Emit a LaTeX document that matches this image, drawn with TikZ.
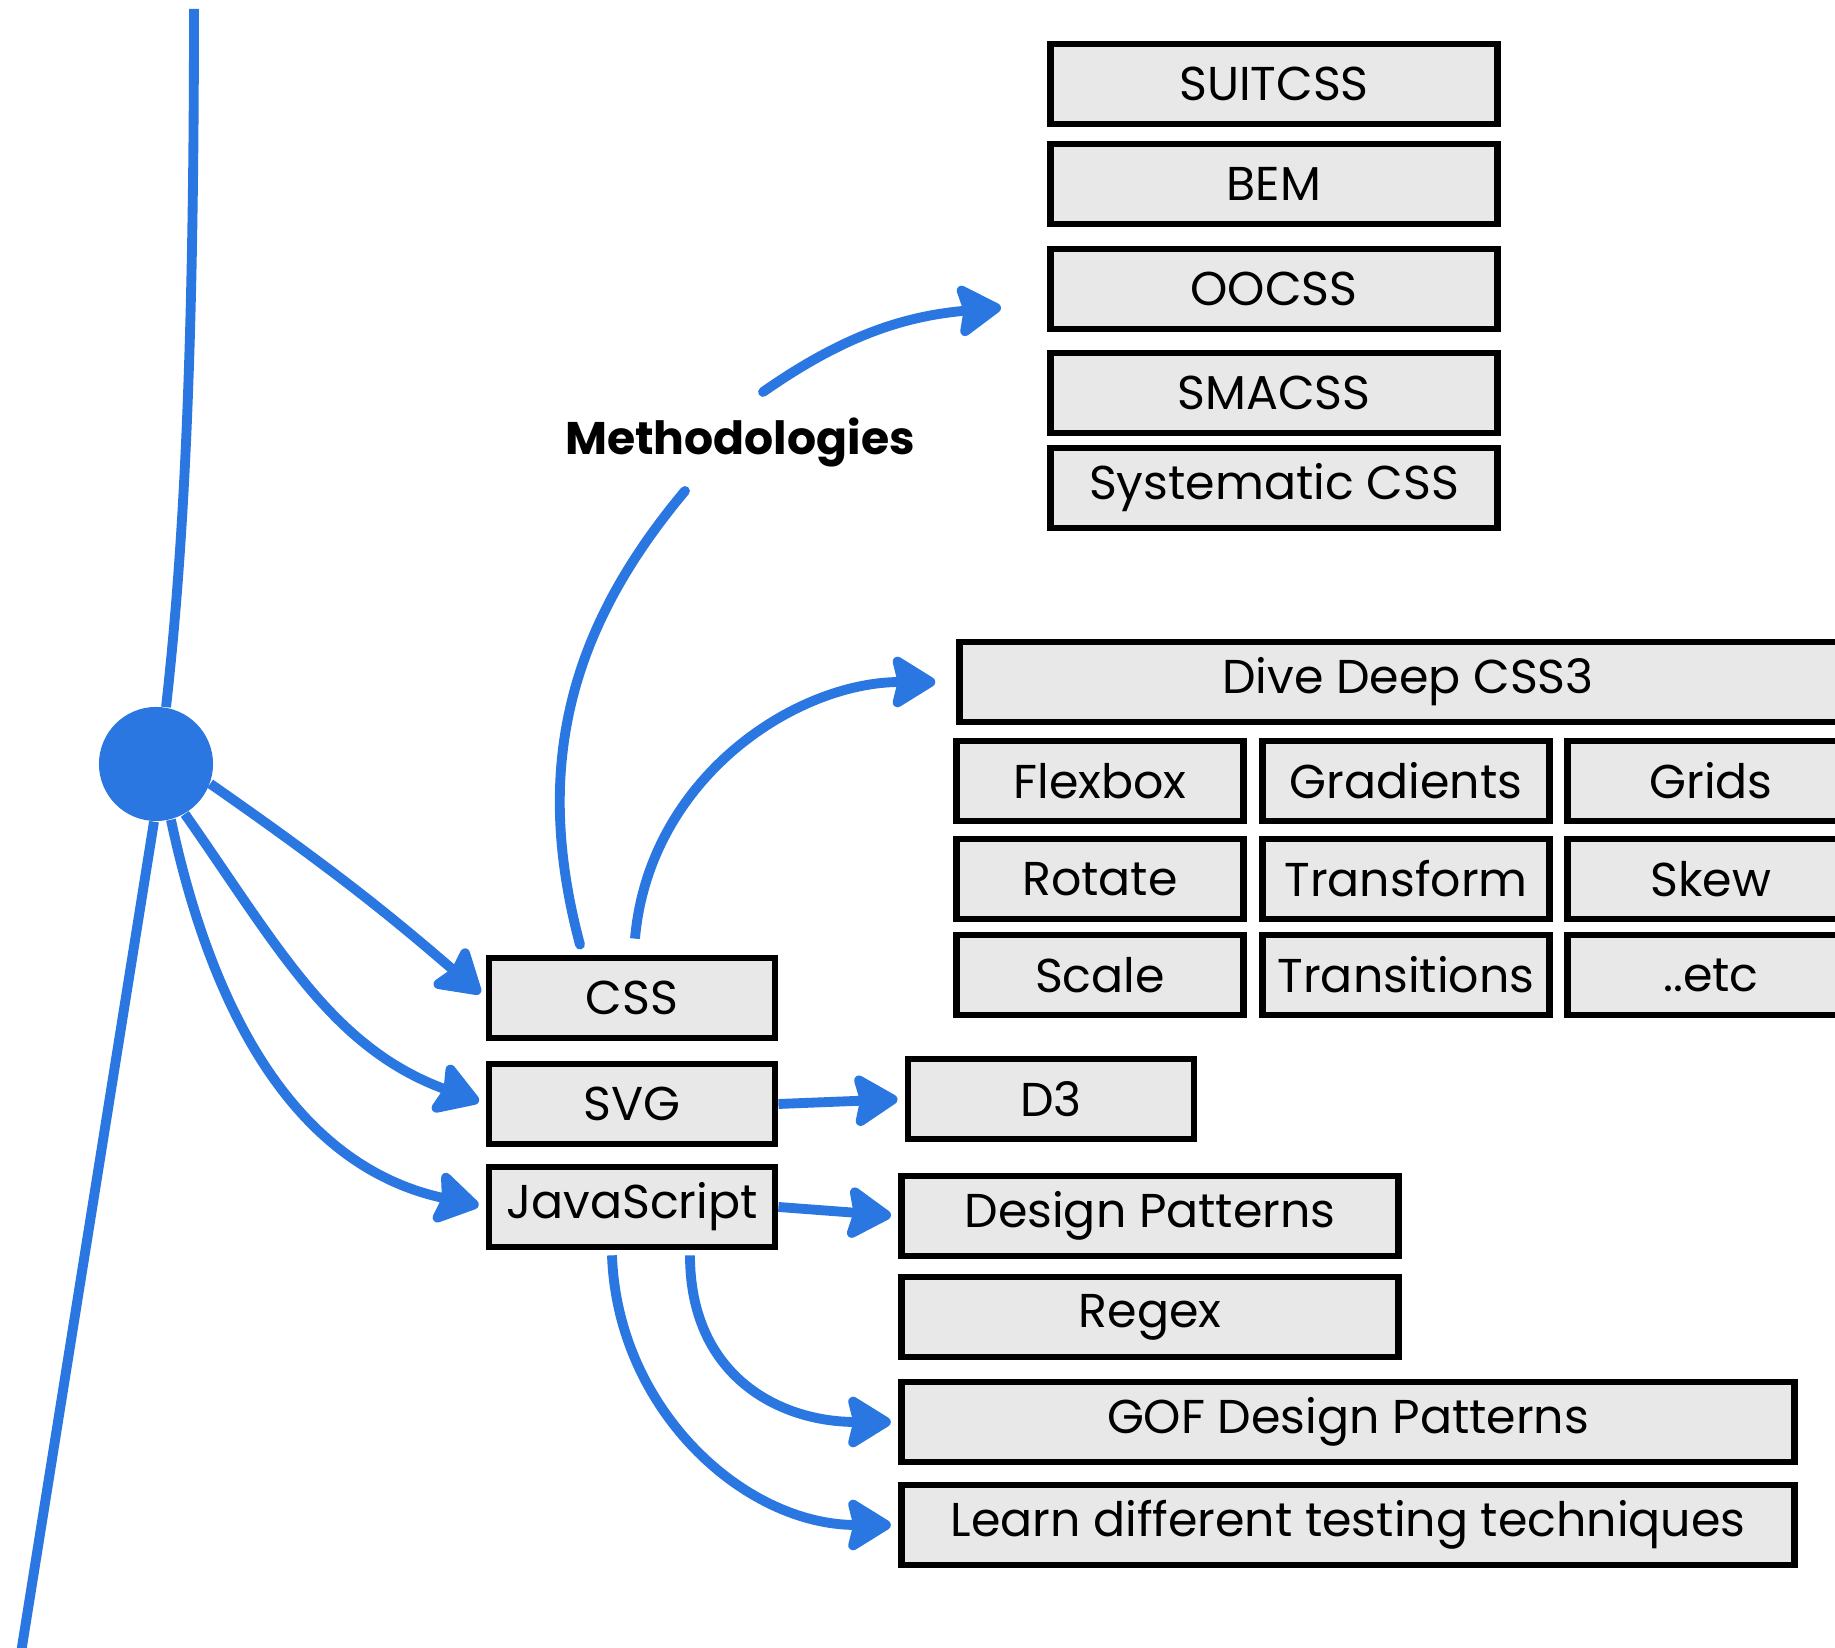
\documentclass[tikz,border=0pt]{standalone}
\usepackage{fontspec}
\setmainfont{Poppins}
\usetikzlibrary{arrows,arrows.meta,positioning,calc}
\definecolor{mapblue}{HTML}{2A77E2}
\definecolor{boxgray}{HTML}{E8E8E8}

\begin{document}
\begin{tikzpicture}[x=0.01cm, y=0.01cm,
 >={Stealth[length=14pt,width=17pt,inset=2pt,line join=round]},
 every node/.style={font=\fontsize{13.5}{16}\selectfont},
 box/.style={draw, line width=1.9pt, fill=boxgray, minimum height=0.8cm, inner sep=0pt},
 branch/.style={mapblue, line width=2.8pt},
 link/.style={branch, ->, shorten >=2pt}]
 \useasboundingbox (0,0) rectangle (1835,1648);
 \clip (0,0) rectangle (1835,1648);
 % methodologies
 \node[box, minimum width=4.47cm] (suitcss) at (1274,1564) {SUITCSS};
 \node[box, minimum width=4.47cm] (bem) at (1274,1464) {BEM};
 \node[box, minimum width=4.47cm] (oocss) at (1274,1359) {OOCSS};
 \node[box, minimum width=4.47cm] (smacss) at (1274,1255) {SMACSS};
 \node[box, minimum width=4.47cm] (syscss) at (1274,1160) {Systematic CSS};
 % css3
 \node[box, minimum width=8.96cm] (dive) at (1408,966) {Dive Deep CSS3};
 \node[box, minimum width=2.87cm] (flexbox) at (1100,867) {Flexbox};
 \node[box, minimum width=2.87cm] (gradients) at (1406,867) {Gradients};
 \node[box, minimum width=2.87cm] (grids) at (1711,867) {Grids};
 \node[box, minimum width=2.87cm] (rotate) at (1100,769) {Rotate};
 \node[box, minimum width=2.87cm] (transform) at (1406,769) {Transform};
 \node[box, minimum width=2.87cm] (skew) at (1711,769) {Skew};
 \node[box, minimum width=2.87cm] (scale) at (1100,673) {Scale};
 \node[box, minimum width=2.87cm] (transitions) at (1406,673) {Transitions};
 \node[box, minimum width=2.87cm] (etc) at (1711,673) {..etc};
 % topics
 \node[box, minimum width=2.86cm] (css) at (632,650) {CSS};
 \node[box, minimum width=2.86cm] (svg) at (632,544) {SVG};
 \node[box, minimum width=2.86cm] (js) at (632,441) {JavaScript};
 \node[box, minimum width=2.86cm] (d3) at (1051,549) {D3};
 \node[box, minimum width=4.97cm] (dp) at (1150,432) {Design Patterns};
 \node[box, minimum width=4.97cm] (regex) at (1150,331) {Regex};
 \node[box, minimum width=8.93cm] (gof) at (1348,226) {GOF Design Patterns};
 \node[box, minimum width=8.93cm] (learn) at (1348,123) {Learn different testing techniques};
 % hub and label
 \node[circle, fill=mapblue, minimum size=1.14cm, inner sep=0pt] (hub) at (156,884) {};
 \node[font=\fontsize{13}{16}\selectfont\bfseries] (meth) at (740,1206) {Methodologies};
 \coordinate (top) at (194,1639);
 \coordinate (bottom) at (21,-5);
 \coordinate (m1) at (685,1157);
 \coordinate (m2) at (763,1256);
 \coordinate (m3) at (1008,1341);
 % connectors
 \draw[branch] (top) .. controls (194,1300) and (184,1100) .. (hub.80);
 \draw[branch] (hub.-92) -- (bottom);
 \draw[link] (hub.-20) to[bend left=3] (css.west);
 \draw[link] (hub.-60) to[out=-55, in=160] (svg.west);
 \draw[link] (hub.-75) to[out=-78, in=168] (js.west);
 \draw[branch, line cap=round] ($(css.north)+(-52,10)$) to[out=105, in=-130] (m1);
 \draw[link, line cap=round] (m2) to[out=35, in=185] (m3);
 \draw[link, shorten >=6pt] ($(css.north)+(3,16)$) to[out=85, in=180] (dive.west);
 \draw[link] (svg.east) -- (d3.west);
 \draw[link] (js.east) -- (dp.west);
 \draw[link] ($(js.south)+(58,-5)$) to[out=-90, in=180, looseness=1.15] (gof.west);
 \draw[link] ($(js.south)+(-20,-5)$) to[out=-88, in=180] (learn.west);
\end{tikzpicture}
\end{document}
